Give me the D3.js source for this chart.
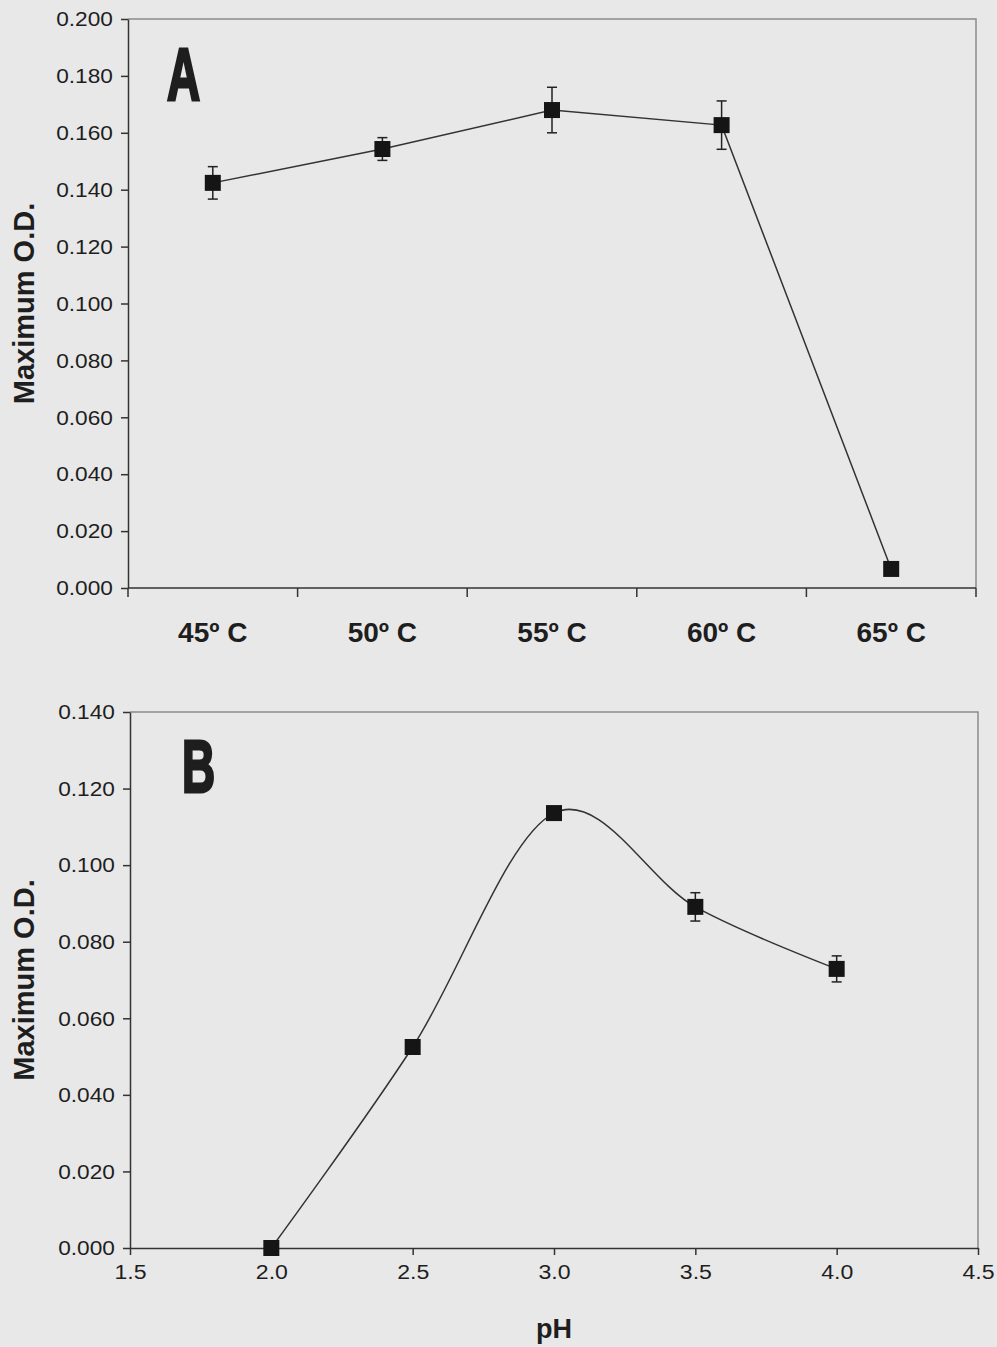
<!DOCTYPE html>
<html>
<head>
<meta charset="utf-8">
<script src="https://cdn.jsdelivr.net/npm/d3@7"></script>
<style>
  html, body { margin: 0; padding: 0; background: #e8e8e8; }
  svg { display: block; }
  text { font-family: "Liberation Sans", Arial, sans-serif; fill: #1e1e1e; }
</style>
</head>
<body>
<div id="chart"></div>
<script>
// Panel A: temperature
const tempLabels = ['45º C', '50º C', '55º C', '60º C', '65º C'];
const tempOD = [0.1424, 0.1543, 0.1680, 0.1627, 0.0067];
const tempErr = [0.0057, 0.0040, 0.0080, 0.0085, 0];
const yTicksA = [0, 0.02, 0.04, 0.06, 0.08, 0.10, 0.12, 0.14, 0.16, 0.18, 0.20];

// Panel B: pH
const phValues = [2.0, 2.5, 3.0, 3.5, 4.0];
const phOD = [0.000, 0.0525, 0.1136, 0.0891, 0.0729];
const phErr = [0, 0, 0, 0.0037, 0.0034];
const yTicksB = [0, 0.02, 0.04, 0.06, 0.08, 0.10, 0.12, 0.14];
const xTicksB = [1.5, 2.0, 2.5, 3.0, 3.5, 4.0, 4.5];

const width = 997, height = 1347;
const svg = d3.select('#chart').append('svg')
  .attr('width', width).attr('height', height);

svg.append('rect').attr('width', width).attr('height', height).attr('fill', '#e8e8e8');

const fmtY = d3.format('.3f');
const fmtX = d3.format('.1f');
const markerSize = 16;

// stretch tick text a little, the scan's font is wider than Arial
function styleTicks(g, sx) {
  g.selectAll('text')
    .attr('font-size', 21)
    .attr('transform', `scale(${sx},1)`);
  g.select('.domain').attr('stroke', '#333').attr('stroke-width', 1.5);
  g.selectAll('.tick line').attr('stroke', '#333').attr('stroke-width', 1.5);
}

function frame(x0, x1, y0, y1) {
  svg.append('path')
    .attr('d', `M${x0},${y0}H${x1}V${y1}`)
    .attr('fill', 'none').attr('stroke', '#8a8a8a').attr('stroke-width', 1.5);
}

function yTitle(cy) {
  svg.append('text')
    .attr('transform', `translate(34,${cy}) rotate(-90)`)
    .attr('text-anchor', 'middle')
    .attr('font-size', 29).attr('font-weight', 'bold')
    .text('Maximum O.D.');
}

function panelLetter(txt, x, y) {
  svg.append('text')
    .attr('transform', `translate(${x},${y}) scale(0.62,1)`)
    .attr('font-family', '"Liberation Sans Narrow", "DejaVu Sans Condensed", "Liberation Sans", sans-serif')
    .attr('font-weight', 'bold')
    .attr('font-size', 74)
    .style('font-weight', 900)
    .attr('stroke', '#1e1e1e').attr('stroke-width', 3)
    .text(txt);
}

function drawErrors(data, x, y) {
  const g = svg.append('g').attr('stroke', '#222').attr('stroke-width', 1.5);
  data.filter(d => d.err > 0).forEach(d => {
    const cx = x(d), yt = y(d.v + d.err), yb = y(d.v - d.err);
    g.append('line').attr('x1', cx).attr('x2', cx).attr('y1', yt).attr('y2', yb);
    g.append('line').attr('x1', cx - 5).attr('x2', cx + 5).attr('y1', yt).attr('y2', yt);
    g.append('line').attr('x1', cx - 5).attr('x2', cx + 5).attr('y1', yb).attr('y2', yb);
  });
}

function drawMarkers(data, x, y) {
  svg.append('g').selectAll('rect')
    .data(data).enter().append('rect')
    .attr('x', d => x(d) - markerSize / 2)
    .attr('y', d => y(d.v) - markerSize / 2)
    .attr('width', markerSize).attr('height', markerSize)
    .attr('fill', '#151515');
}

// ---------- Panel A ----------
const xA = d3.scaleBand().domain(tempLabels).range([128, 976]);
const yA = d3.scaleLinear().domain([0, 0.2]).range([588, 19]);

frame(128, 976, 19, 588);

const yAxisA = svg.append('g').attr('transform', 'translate(128,0)')
  .call(d3.axisLeft(yA).tickValues(yTicksA).tickFormat(fmtY).tickSizeInner(7).tickSizeOuter(0).tickPadding(7));
styleTicks(yAxisA, 1.08);

// category boundaries carry the ticks
const boundaries = tempLabels.map(c => xA(c)).concat([976]);
const xAxisA = svg.append('g');
xAxisA.append('line').attr('x1', 128).attr('x2', 976).attr('y1', 588).attr('y2', 588)
  .attr('stroke', '#333').attr('stroke-width', 1.5);
xAxisA.selectAll('.tk').data(boundaries).enter().append('line')
  .attr('x1', d => d).attr('x2', d => d).attr('y1', 588).attr('y2', 597)
  .attr('stroke', '#333').attr('stroke-width', 1.5);
xAxisA.selectAll('text').data(tempLabels).enter().append('text')
  .attr('x', d => xA(d) + xA.bandwidth() / 2)
  .attr('y', 642)
  .attr('text-anchor', 'middle')
  .attr('font-size', 28).attr('font-weight', 'bold')
  .text(d => d);

const dataA = tempLabels.map((c, i) => ({ c, v: tempOD[i], err: tempErr[i] }));
const xPosA = d => xA(d.c) + xA.bandwidth() / 2;

svg.append('path')
  .datum(dataA)
  .attr('fill', 'none').attr('stroke', '#333').attr('stroke-width', 1.5)
  .attr('d', d3.line().x(xPosA).y(d => yA(d.v)));
drawErrors(dataA, xPosA, yA);
drawMarkers(dataA, xPosA, yA);

panelLetter('A', 167, 100);
yTitle((19 + 588) / 2);

// ---------- Panel B ----------
const xB = d3.scaleLinear().domain([1.5, 4.5]).range([130, 978]);
const yB = d3.scaleLinear().domain([0, 0.14]).range([1248, 712]);

frame(130, 978, 712, 1248);

const yAxisB = svg.append('g').attr('transform', 'translate(130,0)')
  .call(d3.axisLeft(yB).tickValues(yTicksB).tickFormat(fmtY).tickSizeInner(7).tickSizeOuter(0).tickPadding(7));
styleTicks(yAxisB, 1.08);

const xAxisB = svg.append('g').attr('transform', 'translate(0,1248)')
  .call(d3.axisBottom(xB).tickValues(xTicksB).tickFormat(fmtX).tickSizeInner(7).tickSizeOuter(0).tickPadding(8));
styleTicks(xAxisB, 1.1);
xAxisB.selectAll('text').attr('dy', '0.75em');

const dataB = phValues.map((p, i) => ({ p, v: phOD[i], err: phErr[i] }));
const xPosB = d => xB(d.p);

svg.append('path')
  .datum(dataB)
  .attr('fill', 'none').attr('stroke', '#333').attr('stroke-width', 1.5)
  .attr('d', d3.line().x(xPosB).y(d => yB(d.v)).curve(d3.curveCardinal.tension(0)));
drawErrors(dataB, xPosB, yB);
drawMarkers(dataB, xPosB, yB);

panelLetter('B', 182, 792);
yTitle((712 + 1248) / 2);

svg.append('text')
  .attr('x', (130 + 978) / 2).attr('y', 1338)
  .attr('text-anchor', 'middle')
  .attr('font-size', 27).attr('font-weight', 'bold')
  .text('pH');
</script>
</body>
</html>
